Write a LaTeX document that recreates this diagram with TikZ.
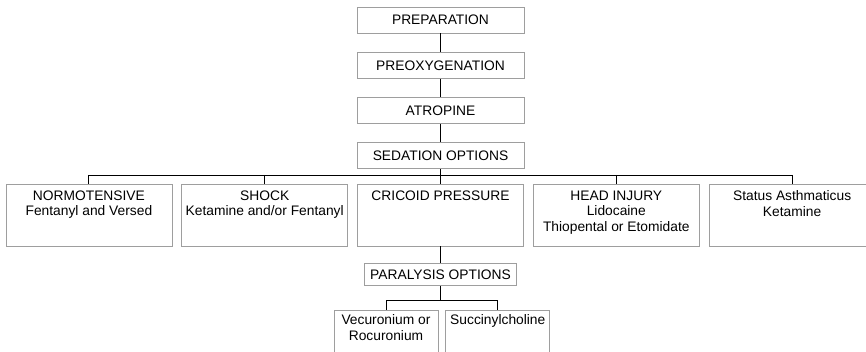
\documentclass[tikz,border=0pt]{standalone}
\usepackage{fontspec}
\setmainfont{Liberation Sans}
\usetikzlibrary{positioning}
\definecolor{boxgray}{RGB}{158,158,158}

\begin{document}
\begin{tikzpicture}[
    x=1pt, y=-1pt,
    font=\fontsize{13.8}{15.5}\selectfont,
    stage/.style = {draw=boxgray, line width=0.8pt, minimum width=167pt, minimum height=26pt, inner sep=0pt},
    option/.style = {draw=boxgray, line width=0.8pt, minimum width=166pt, minimum height=62pt, inner sep=0pt},
    drug/.style = {draw=boxgray, line width=0.8pt, minimum width=104pt, minimum height=62pt, inner sep=0pt},
    boxtext/.style = {anchor=north, align=center, inner sep=0pt, yshift=-7pt},
    link/.style = {line width=0.9pt},
    node distance=18.5pt and 9pt
  ]
  \useasboundingbox (0,0) rectangle (866,352);

  % Main chain
  \node[stage] (prep) at (440.5,20) {PREPARATION};
  \node[stage, below=of prep] (preox) {PREOXYGENATION};
  \node[stage, below=of preox] (atro) {ATROPINE};
  \node[stage, below=of atro] (sed) {SEDATION OPTIONS};

  \draw[link] (prep) -- (preox);
  \draw[link] (preox) -- (atro);
  \draw[link] (atro) -- (sed);

  % Sedation options row
  \node[option] (cric) at (440.5,215) {};
  \node[option, left=of cric] (shock) {};
  \node[option, left=of shock] (normo) {};
  \node[option, right=of cric] (head) {};
  \node[option, right=of head] (asth) {};

  \node[boxtext] (normotext) at (normo.north) {NORMOTENSIVE\\Fentanyl and Versed};
  \node[boxtext] (shocktext) at (shock.north) {SHOCK\\Ketamine and/or Fentanyl};
  \node[boxtext] (crictext) at (cric.north) {CRICOID PRESSURE};
  \node[boxtext] (headtext) at (head.north) {HEAD INJURY\\Lidocaine\\Thiopental or Etomidate};
  \node[boxtext] (asthtext) at (asth.north) {Status Asthmaticus\\Ketamine};

  % Bus from sedation options
  \coordinate (sedbus) at (440.5,175);
  \draw[link] (sed) -- (sedbus);
  \draw[link] (sedbus -| normo.north) -- (sedbus -| asth.north);
  \foreach \opt in {normo, shock, cric, head, asth}
    \draw[link] (sedbus -| \opt.north) -- (\opt.north);

  % Paralysis options
  \node[stage, minimum width=152pt, minimum height=22pt, below=17pt of cric] (para) {PARALYSIS OPTIONS};
  \draw[link] (cric) -- (para);

  \node[drug] (vec) at (386,341) {};
  \node[drug, right=7pt of vec] (succ) {};
  \node[boxtext, yshift=2pt] (vectext) at (vec.north) {Vecuronium or\\Rocuronium};
  \node[boxtext, yshift=2pt] (succtext) at (succ.north) {Succinylcholine};

  \coordinate (parabus) at (440.5,300);
  \draw[link] (para) -- (parabus);
  \draw[link] (parabus -| vec.north) -- (parabus -| succ.north);
  \foreach \drg in {vec, succ}
    \draw[link] (parabus -| \drg.north) -- (\drg.north);

\end{tikzpicture}
\end{document}
